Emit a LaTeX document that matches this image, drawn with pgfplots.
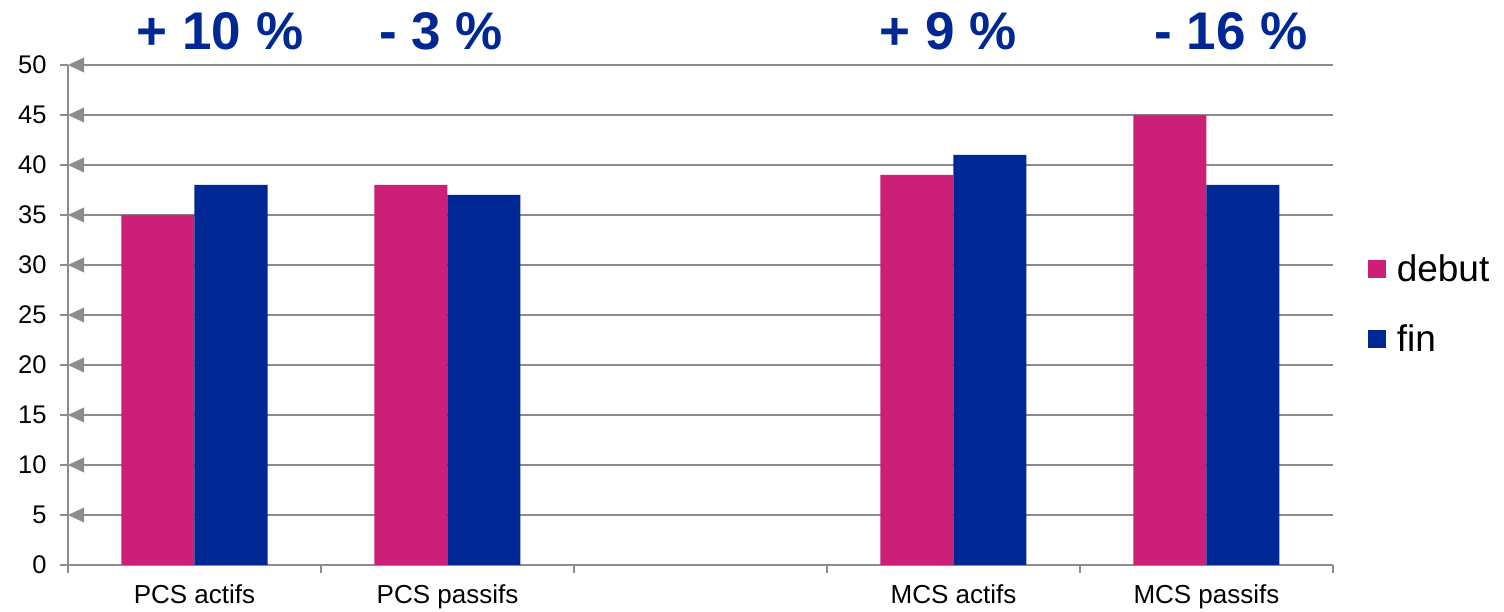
\documentclass[border=0pt]{standalone}
\usepackage{pgfplots}
\pgfplotsset{compat=1.18}
\usepackage{fontspec}
\setmainfont{Liberation Sans}
\usetikzlibrary{arrows.meta}
\definecolor{cdebut}{HTML}{CC2078}
\definecolor{cfin}{HTML}{002894}
\definecolor{cgrid}{HTML}{8C8C8C}
\begin{document}
\begin{tikzpicture}[x=1bp,y=1bp]
\useasboundingbox (0,0) rectangle (1504,612);
\begin{axis}[
  at={(68bp,47bp)}, anchor=south west,
  scale only axis, width=1265bp, height=500bp,
  xmin=-0.5, xmax=4.5, ymin=0, ymax=50,
  ytick={0,5,...,50},
  xtick={0,1,3,4},
  xticklabels={PCS actifs,PCS passifs,MCS actifs,MCS passifs},
  minor xtick={-0.5,0.5,1.5,2.5,3.5,4.5},
  major x tick style={draw=none},
  minor x tick style={cgrid, line width=2bp},
  tick align=outside,
  minor tick length=8bp,
  major tick length=8bp,
  y tick style={cgrid, line width=2bp},
  axis x line*=bottom, axis y line*=left,
  axis line style={cgrid, line width=2bp, -},
  /pgf/number format/assume math mode=true,
  yticklabel style={font=\fontsize{25.5bp}{30bp}\selectfont, xshift=-10bp},
  xticklabel style={font=\fontsize{26bp}{30bp}\selectfont, yshift=-8bp},
  ybar, bar width=73bp,
  clip=false,
  legend style={draw=none, fill=none, at={(1.025,0.522)}, anchor=west,
    font=\fontsize{37bp}{42bp}\selectfont, row sep=38bp,
    /tikz/every odd column/.append style={column sep=9bp}},
  legend image code/.code={\fill[#1] (0bp,-9bp) rectangle (18bp,9bp);},
  legend cell align=left,
]
\pgfplotsinvokeforeach{5,10,...,50}{
  \draw[cgrid, line width=2bp, {Triangle[length=16bp,width=15bp,line width=0pt]}-]
    (axis cs:-0.5,#1) -- (axis cs:4.5,#1);
}
\addplot[fill=cdebut, draw=none, bar shift=-36.5bp] coordinates {(0,35) (1,38) (3,39) (4,45)};
\addplot[fill=cfin, draw=none, bar shift=36.5bp] coordinates {(0,38) (1,37) (3,41) (4,38)};
\legend{debut,fin}
\node[font=\fontsize{53bp}{60bp}\selectfont\bfseries, text=cfin] at (axis cs:0.101,53.4) {+ 10 \%};
\node[font=\fontsize{53bp}{60bp}\selectfont\bfseries, text=cfin] at (axis cs:0.974,53.4) {- 3 \%};
\node[font=\fontsize{53bp}{60bp}\selectfont\bfseries, text=cfin] at (axis cs:2.978,53.4) {+ 9 \%};
\node[font=\fontsize{53bp}{60bp}\selectfont\bfseries, text=cfin] at (axis cs:4.097,53.4) {- 16 \%};
\end{axis}
\end{tikzpicture}
\end{document}
